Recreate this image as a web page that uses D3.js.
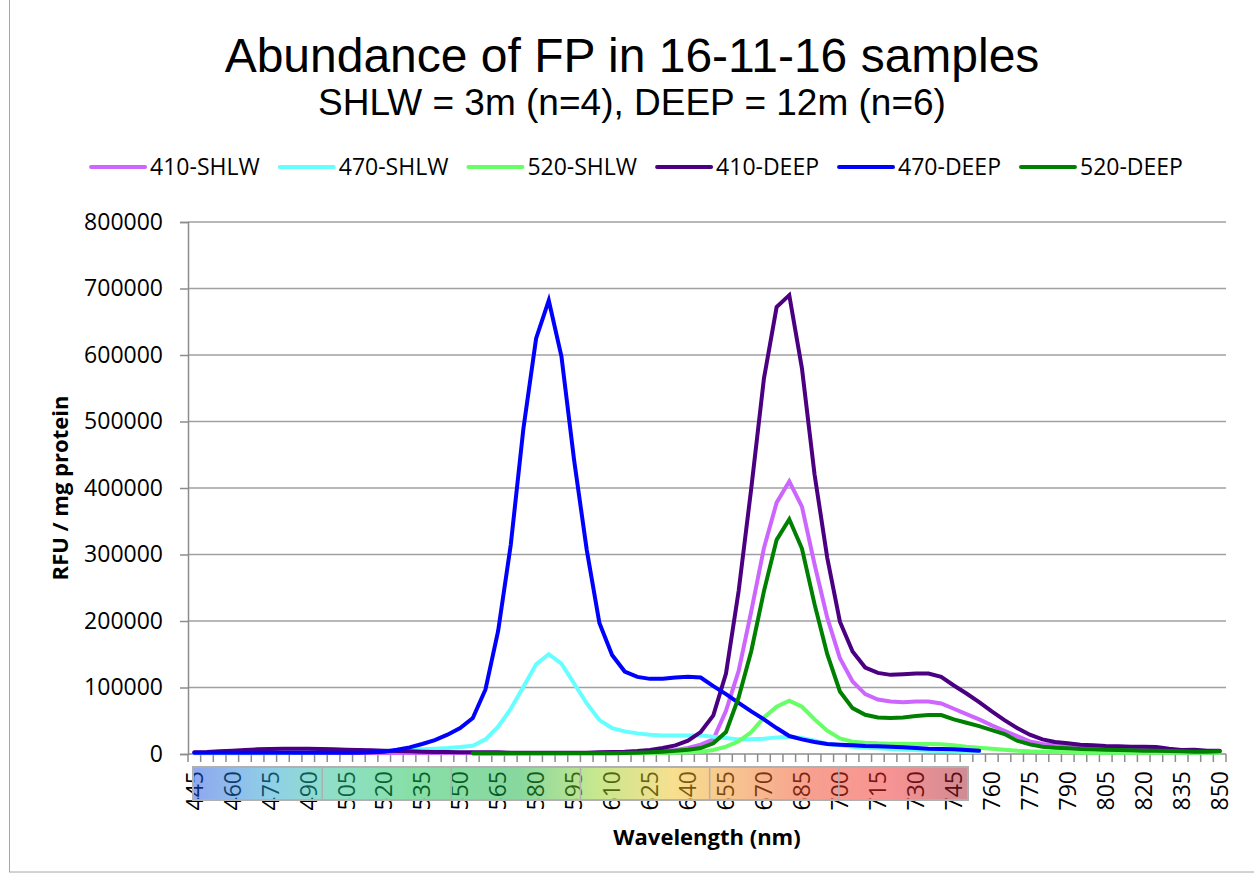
<!DOCTYPE html>
<html>
<head>
<meta charset="utf-8">
<script src="https://cdn.jsdelivr.net/npm/d3@7/dist/d3.min.js"></script>
<style>
  html, body { margin: 0; padding: 0; background: #fff; }
  svg { display: block; }
</style>
</head>
<body>
<svg id="chart" width="1254" height="881"></svg>
<script>
// ---------------- DATA ----------------
const wavelengths = [445,450,455,460,465,470,475,480,485,490,495,500,505,510,515,520,525,530,535,540,
  545,550,555,560,565,570,575,580,585,590,595,600,605,610,615,620,625,630,635,640,
  645,650,655,660,665,670,675,680,685,690,695,700,705,710,715,720,725,730,735,740,
  745,750,755,760,765,770,775,780,785,790,795,800,805,810,815,820,825,830,835,840,845,850];

const tickLabels = ["445","460","475","490","505","520","535","550","565","580","595","610","625","640",
  "655","670","685","700","715","730","745","760","775","790","805","820","835","850"];

const yTicks = [0,100000,200000,300000,400000,500000,600000,700000,800000];

const seriesNames = ["410-SHLW","470-SHLW","520-SHLW","410-DEEP","470-DEEP","520-DEEP"];

const shlw410 = [1500,1500,1500,1600,1700,1800,1800,1800,1800,1800,1700,1700,1600,1600,1500,1500,1500,1500,1500,1500,
  1500,1500,1500,1500,1500,1500,1500,1500,1500,1500,1500,1500,1600,1800,2000,2500,3000,4000,6000,9000,
  14000,22000,65000,125000,215000,310000,378000,410000,372000,285000,205000,144000,109000,90000,82000,79000,78000,79000,79000,76000,
  68000,60000,52000,43000,35000,27000,19000,15000,13000,11000,10000,9000,8500,8000,7500,7000,6500,6000,5000,5000,4500,4500];

const shlw470 = [1000,1000,1000,1000,1000,1000,1200,1500,1700,2000,2200,2500,2800,3200,3600,4000,5000,6000,7000,8000,
  9000,10500,12500,22000,41000,68000,101000,135000,150000,136000,106000,76000,51000,39000,34000,31000,29000,28000,28000,28000,
  28000,26000,24000,22000,22000,23000,25000,26000,24000,20000,15000,13000,11000,9500,8500,7500,6500,6000,5000,4500,
  4000,3500,3000,null,null,null,null,null,null,null,null,null,null,null,null,null,null,null,null,null,null,null];

const shlw520 = [null,null,null,null,null,null,null,null,null,null,null,null,null,null,null,null,null,null,null,null,
  null,null,500,500,500,500,600,700,800,900,1000,1000,1000,1000,1000,1200,1500,1800,2000,2500,
  3500,6000,11000,19000,33000,55000,71000,80000,71000,52000,35000,23500,18500,17000,16000,15500,15500,15000,15000,14500,
  13000,11000,9500,8000,6500,5000,4000,3500,3000,2500,2000,2000,2000,2000,2000,2000,2000,2000,2000,2000,2000,2000];

const deep410 = [2500,3000,4000,5000,6000,7000,7500,8000,8000,8000,7500,7000,6500,6000,5500,5000,4500,4000,3500,3000,
  3000,2500,2500,2500,2500,2000,2000,2000,2000,2000,2000,2000,2500,3000,3500,4500,6000,9000,13000,20000,
  33000,58000,121000,245000,400000,565000,672000,690000,580000,420000,295000,199000,154000,130000,122000,119000,120000,121000,121000,116000,
  103000,91000,78000,64000,51000,39000,29000,22000,18000,16000,14000,13000,12000,11500,11000,11000,10500,8000,6000,6500,5000,5000];

const deep470 = [2000,2000,2000,2000,2000,2000,2000,2000,2000,2000,2000,2000,2000,2000,2500,3500,6500,10000,15000,21000,
  29000,39000,54000,97000,185000,315000,490000,625000,682000,598000,442000,307000,197000,149000,124000,116000,113000,113000,115000,116000,
  115000,102000,90000,77000,64000,52000,39000,27000,22000,18000,15000,14000,13000,12000,11500,11000,10000,9000,8000,7500,
  7000,6000,5000,null,null,null,null,null,null,null,null,null,null,null,null,null,null,null,null,null,null,null];

const deep520 = [null,null,null,null,null,null,null,null,null,null,null,null,null,null,null,null,null,null,null,null,
  null,null,1000,1000,1000,1000,1000,1000,1000,1000,1000,1000,1000,1000,1500,2000,2500,3500,5000,6500,
  9000,16000,33000,85000,155000,245000,322000,353000,309000,225000,150000,94000,69000,59000,55000,54000,55000,57000,58500,58500,
  52000,47000,42000,36000,30000,20000,14500,11000,9500,8500,7500,7000,6500,6000,5500,5000,5000,4500,4000,3500,3500,4000];

const seriesValues = [shlw410, shlw470, shlw520, deep410, deep470, deep520];
const seriesColors = ["#CC66FF","#66FFFF","#66FF66","#4B0082","#0000FF","#008000"];

// gradient strip colour stops (visible spectrum band)
const stripStops = [
  {o:0.00, c:"#2050e0"},{o:0.10, c:"#20a0d0"},{o:0.18, c:"#20c090"},{o:0.28, c:"#10c050"},
  {o:0.42, c:"#10b040"},{o:0.52, c:"#90d020"},{o:0.62, c:"#f0c020"},{o:0.71, c:"#f08020"},
  {o:0.80, c:"#f04020"},{o:0.90, c:"#f02828"},{o:1.00, c:"#a01828"}];

// ---------------- LAYOUT ----------------
const W = 1254, H = 881;
const plot = {left: 188, right: 1226, top: 222, bottom: 754};
const labelFont = "'Open Sans', 'Liberation Sans', sans-serif";
const titleFont = "'Liberation Sans', Arial, sans-serif";

const svg = d3.select("#chart");
svg.append("rect").attr("width", W).attr("height", H).attr("fill", "#fff");
// chart area border
svg.append("rect").attr("x", 9.5).attr("y", -2).attr("width", 1260).attr("height", 874)
  .attr("fill", "none").attr("stroke", "#a6a6a6").attr("stroke-width", 1);

const x = d3.scaleBand().domain(wavelengths).range([plot.left, plot.right]).padding(0);
const xc = d => x(d) + x.bandwidth() / 2;
const y = d3.scaleLinear().domain([0, 800000]).range([plot.bottom, plot.top]);

// gridlines
svg.append("g").selectAll("line").data(yTicks.filter(t => t > 0)).join("line")
  .attr("x1", plot.left).attr("x2", plot.right)
  .attr("y1", d => y(d)).attr("y2", d => y(d))
  .attr("stroke", "#a0a0a0").attr("stroke-width", 1.5);

// Y axis
const yAxis = svg.append("g").attr("transform", `translate(${plot.left},0)`)
  .call(d3.axisLeft(y).tickValues(yTicks).tickFormat(d3.format("d")).tickSize(8).tickPadding(17));
yAxis.select(".domain").attr("stroke", "#8c8c8c").attr("stroke-width", 1.5);
yAxis.selectAll(".tick line").attr("stroke", "#8c8c8c").attr("stroke-width", 1.5);
yAxis.selectAll(".tick text").attr("font-family", labelFont).attr("font-size", 23).attr("fill", "#000");

// X axis (category axis, ticks at category boundaries)
const xAxisG = svg.append("g");
xAxisG.append("line").attr("x1", plot.left).attr("x2", plot.right)
  .attr("y1", plot.bottom).attr("y2", plot.bottom).attr("stroke", "#8c8c8c").attr("stroke-width", 1.5);
const boundaries = wavelengths.map(d => x(d)).concat([plot.right]);
xAxisG.selectAll("line.tk").data(boundaries).join("line").attr("class", "tk")
  .attr("x1", d => d).attr("x2", d => d).attr("y1", plot.bottom).attr("y2", plot.bottom + 8)
  .attr("stroke", "#8c8c8c").attr("stroke-width", 1.5);
xAxisG.selectAll("text").data(tickLabels).join("text")
  .attr("transform", d => `translate(${xc(+d)},771) rotate(-90)`)
  .attr("text-anchor", "end").attr("dy", "0.36em")
  .attr("font-family", labelFont).attr("font-size", 23).attr("fill", "#000")
  .text(d => d);

// spectrum strip overlay
const defs = svg.append("defs");
const grad = defs.append("linearGradient").attr("id", "spec").attr("x1", "0%").attr("x2", "100%");
grad.selectAll("stop").data(stripStops).join("stop")
  .attr("offset", d => d.o).attr("stop-color", d => d.c);
const strip = {x0: 193, x1: 968, y0: 767, y1: 800};
svg.append("rect").attr("x", strip.x0).attr("y", strip.y0)
  .attr("width", strip.x1 - strip.x0).attr("height", strip.y1 - strip.y0)
  .attr("fill", "url(#spec)").attr("fill-opacity", 0.5);
svg.append("g").selectAll("line").data([1,2,3,4,5]).join("line")
  .attr("x1", d => strip.x0 + (strip.x1 - strip.x0) * d / 6).attr("x2", d => strip.x0 + (strip.x1 - strip.x0) * d / 6)
  .attr("y1", strip.y0).attr("y2", strip.y1).attr("stroke", "#b0b0b0").attr("stroke-width", 1.5);
svg.append("rect").attr("x", strip.x0).attr("y", strip.y0)
  .attr("width", strip.x1 - strip.x0).attr("height", strip.y1 - strip.y0)
  .attr("fill", "none").attr("stroke", "#b0b0b0").attr("stroke-width", 2);

// series lines
const line = d3.line().defined(d => d.v != null).x(d => xc(d.w)).y(d => y(d.v));
seriesValues.forEach((vals, k) => {
  const pts = wavelengths.map((w, i) => ({w, v: vals[i]}));
  svg.append("path").datum(pts).attr("d", line)
    .attr("fill", "none").attr("stroke", seriesColors[k]).attr("stroke-width", 4)
    .attr("stroke-linecap", "round").attr("stroke-linejoin", "miter");
});

// titles
svg.append("text").attr("x", 632).attr("y", 72).attr("text-anchor", "middle")
  .attr("font-family", titleFont).attr("font-size", 48).attr("fill", "#000")
  .text("Abundance of FP in 16-11-16 samples");
svg.append("text").attr("x", 632).attr("y", 115).attr("text-anchor", "middle")
  .attr("font-family", titleFont).attr("font-size", 37).attr("fill", "#000")
  .text("SHLW = 3m (n=4), DEEP = 12m (n=6)");

svg.append("text").attr("x", 707).attr("y", 845).attr("text-anchor", "middle")
  .attr("font-family", labelFont).attr("font-weight", "bold").attr("font-size", 22).attr("fill", "#000")
  .text("Wavelength (nm)");
svg.append("text").attr("transform", `translate(60,488) rotate(-90)`).attr("text-anchor", "middle")
  .attr("dy", "0.35em")
  .attr("font-family", labelFont).attr("font-weight", "bold").attr("font-size", 22).attr("fill", "#000")
  .text("RFU / mg protein");

// legend
const legY = 167;
const legend = svg.append("g");
const items = legend.selectAll("g").data(seriesNames).join("g");
items.append("line").attr("x1", 0).attr("x2", 54).attr("y1", 0).attr("y2", 0)
  .attr("stroke", (d, i) => seriesColors[i]).attr("stroke-width", 4).attr("stroke-linecap", "round");
items.append("text").attr("x", 59).attr("dy", "0.36em")
  .attr("font-family", labelFont).attr("font-size", 23).attr("fill", "#000").text(d => d);
const widths = [];
items.each(function() {
  const tw = d3.select(this).select("text").node().getComputedTextLength();
  widths.push(59 + tw);
});
const totalW = d3.sum(widths) + 20 * (widths.length - 1);
let startX = 637 - totalW / 2;
items.attr("transform", (d, i) => {
  const t = `translate(${startX},${legY})`;
  startX += widths[i] + 20;
  return t;
});
</script>
</body>
</html>
